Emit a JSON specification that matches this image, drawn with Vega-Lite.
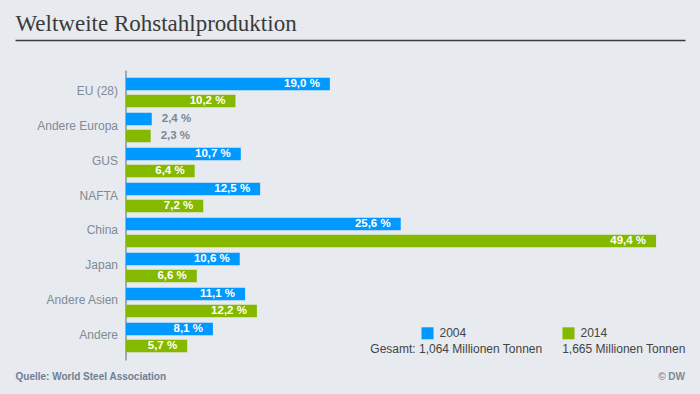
{
  "$schema": "https://vega.github.io/schema/vega-lite/v6.json",
  "width": 670,
  "height": 290,
  "autosize": {"type": "none"},
  "padding": {"left": 15, "top": 70, "right": 15, "bottom": 34},
  "background": "#e7eaee",
  "config": {"font": "Liberation Sans", "view": {"stroke": null}},
  "title": {"text": "© DW", "orient": "bottom", "anchor": "end", "frame": "group", "fontSize": 10, "fontWeight": "bold", "color": "#7d8b9a", "offset": 4, "dy": -13},
  "data": {"values": [
    {"region": "EU (28)", "year": "2004", "value": 19.0, "label": "19,0 %"},
    {"region": "EU (28)", "year": "2014", "value": 10.2, "label": "10,2 %"},
    {"region": "Andere Europa", "year": "2004", "value": 2.4, "label": "2,4 %"},
    {"region": "Andere Europa", "year": "2014", "value": 2.3, "label": "2,3 %"},
    {"region": "GUS", "year": "2004", "value": 10.7, "label": "10,7 %"},
    {"region": "GUS", "year": "2014", "value": 6.4, "label": "6,4 %"},
    {"region": "NAFTA", "year": "2004", "value": 12.5, "label": "12,5 %"},
    {"region": "NAFTA", "year": "2014", "value": 7.2, "label": "7,2 %"},
    {"region": "China", "year": "2004", "value": 25.6, "label": "25,6 %"},
    {"region": "China", "year": "2014", "value": 49.4, "label": "49,4 %"},
    {"region": "Japan", "year": "2004", "value": 10.6, "label": "10,6 %"},
    {"region": "Japan", "year": "2014", "value": 6.6, "label": "6,6 %"},
    {"region": "Andere Asien", "year": "2004", "value": 11.1, "label": "11,1 %"},
    {"region": "Andere Asien", "year": "2014", "value": 12.2, "label": "12,2 %"},
    {"region": "Andere", "year": "2004", "value": 8.1, "label": "8,1 %"},
    {"region": "Andere", "year": "2014", "value": 5.7, "label": "5,7 %"}
  ]},
  "encoding": {
    "y": {
      "field": "region", "type": "nominal",
      "scale": {"domain": ["EU (28)", "Andere Europa", "GUS", "NAFTA", "China", "Japan", "Andere Asien", "Andere"], "paddingInner": 0, "paddingOuter": 0.143},
      "axis": {"orient": "left", "offset": -110.5, "title": null, "domainColor": "#8795a3", "domainWidth": 1.5, "ticks": false, "grid": false, "labelPadding": 8, "labelFontSize": 12, "labelColor": "#7f8b97", "labelOffset": -2}
    },
    "yOffset": {
      "field": "year", "type": "nominal",
      "scale": {"domain": ["2004", "2014"], "paddingInner": 0.265, "paddingOuter": 0.162}
    }
  },
  "layer": [
    {
      "mark": {"type": "bar"},
      "encoding": {
        "x": {
          "field": "value", "type": "quantitative",
          "scale": {"domain": [-10.345, 52.097], "nice": false},
          "axis": {"orient": "bottom", "domain": false, "ticks": false, "labels": false, "grid": false, "title": "Quelle: World Steel Association", "titleFontSize": 10, "titleFontWeight": "bold", "titleColor": "#6e8094", "titleX": 0, "titleY": 19, "titleAlign": "left", "titleAnchor": "start", "titleBaseline": "alphabetic"}
        },
        "color": {
          "field": "year", "type": "nominal",
          "scale": {"domain": ["2004", "2014"], "range": ["#0099ff", "#84b900"]},
          "legend": {
            "orient": "none", "legendX": 328.5, "legendY": 257.3, "direction": "horizontal",
            "title": "\u200b\u00a0\u00a0\u00a0\u00a0\u00a0\u00a0\u00a0\u00a0Gesamt: 1,064 Millionen Tonnen\u00a0\u00a0\u00a0\u00a0\u00a0\u00a01,665 Millionen Tonnen",
            "titleOrient": "bottom", "titleAnchor": "middle", "titleAlign": "center", "titleFontSize": 12, "titleFontWeight": "normal", "titleColor": "#444444", "titlePadding": 5, "titleLimit": 500,
            "symbolType": "square", "symbolSize": 144, "symbolStrokeWidth": 0, "symbolOpacity": 1,
            "labelFontSize": 12, "labelColor": "#444444", "labelOffset": 6, "columnPadding": 96, "padding": 0
          }
        }
      }
    },
    {
      "transform": [{"filter": "datum.value >= 5"}],
      "mark": {"type": "text", "align": "right", "baseline": "middle", "dx": -10, "fontSize": 11.5, "fontWeight": "bold", "color": "#ffffff"},
      "encoding": {
        "x": {
          "field": "value", "type": "quantitative",
          "axis": {"orient": "top", "offset": 30, "domain": true, "domainColor": "#3a3a3a", "domainWidth": 1.5, "ticks": false, "labels": false, "grid": false, "title": "Weltweite Rohstahlproduktion", "titleFont": "Liberation Serif", "titleFontSize": 23, "titleFontWeight": "normal", "titleColor": "#3a3a3a", "titleX": 0, "titleY": -10, "titleAlign": "left", "titleAnchor": "start", "titleBaseline": "alphabetic"}
        },
        "text": {"field": "label"}
      }
    },
    {
      "transform": [{"filter": "datum.value < 5"}],
      "mark": {"type": "text", "align": "left", "baseline": "middle", "dx": 10, "fontSize": 11.5, "fontWeight": "bold", "color": "#7b8794"},
      "encoding": {
        "x": {"field": "value", "type": "quantitative", "axis": null},
        "text": {"field": "label"}
      }
    }
  ],
  "resolve": {"axis": {"x": "independent"}}
}
